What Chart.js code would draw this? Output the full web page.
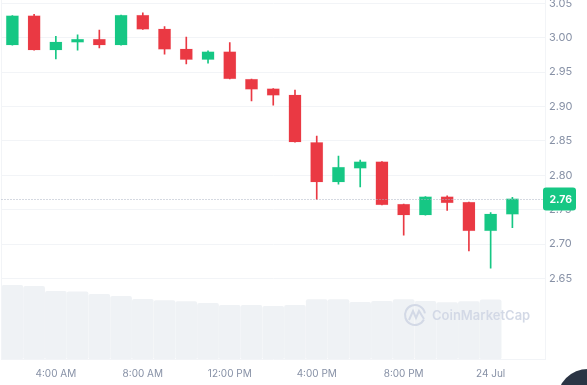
<!DOCTYPE html>
<html>
<head>
<meta charset="utf-8">
<script src="https://cdn.jsdelivr.net/npm/chart.js@4"></script>
<style>
html, body { margin: 0; padding: 0; background: #fff; overflow: hidden; }
#wrap { position: relative; width: 587px; height: 385px; overflow: hidden; }
#bubble { position: absolute; left: 557px; top: 369px; width: 62px; height: 62px; border-radius: 50%; background: #2b3444; }
</style>
</head>
<body>
<div id="wrap">
<canvas id="priceChart" width="587" height="385"></canvas>
<div id="bubble"></div>
</div>
<script>
const labels = ['', '', '4:00 AM', '', '', '', '8:00 AM', '', '', '', '12:00 PM', '', '', '', '4:00 PM', '', '', '', '8:00 PM', '', '', '', '24 Jul', '', ''];
const opens = [2.989, 3.032, 2.982, 2.993, 2.998, 2.989, 3.033, 3.013, 2.984, 2.968, 2.980, 2.940, 2.926, 2.917, 2.848, 2.790, 2.810, 2.820, 2.758, 2.742, 2.769, 2.761, 2.719, 2.743];
const closes = [3.032, 2.982, 2.994, 2.998, 2.989, 3.033, 3.012, 2.983, 2.968, 2.980, 2.940, 2.925, 2.916, 2.848, 2.790, 2.812, 2.820, 2.757, 2.742, 2.769, 2.760, 2.719, 2.744, 2.766];
const highs = [3.032, 3.034, 3.002, 3.004, 3.011, 3.033, 3.036, 3.016, 3.001, 2.981, 2.993, 2.940, 2.926, 2.924, 2.857, 2.828, 2.822, 2.820, 2.758, 2.769, 2.770, 2.761, 2.746, 2.768];
const lows = [2.989, 2.982, 2.969, 2.982, 2.985, 2.989, 3.012, 2.976, 2.962, 2.963, 2.940, 2.908, 2.902, 2.848, 2.765, 2.787, 2.783, 2.757, 2.713, 2.742, 2.749, 2.690, 2.665, 2.724];
const volumes = [73.7, 72.7, 67.7, 67, 64.7, 62.7, 59.7, 58.4, 57.4, 55.7, 53.7, 53.7, 52.7, 53.7, 59.4, 59.4, 56.7, 57.7, 59.4, 57.7, 56.4, 57.4, 59];
const yTicks = [3.05, 3.00, 2.95, 2.90, 2.85, 2.80, 2.75, 2.70, 2.65];
const lastPrice = 2.7654;
const lastPriceLabel = '2.76';

const UP = '#16c784';
const DOWN = '#ea3943';
const UP_EDGE = 'rgba(22,199,132,0.25)';
const DOWN_EDGE = 'rgba(234,57,67,0.25)';
const GRID = '#f2f4f7';
const TICK = '#8791a6';

const overlay = {
    id: 'overlay',
    afterDatasetsDraw(chart) {
        const ctx = chart.ctx;
        // watermark
        ctx.save();
        ctx.strokeStyle = '#d3d9e6';
        ctx.lineWidth = 2;
        ctx.beginPath();
        ctx.arc(415, 315, 10, 0.15 * Math.PI, 1.95 * Math.PI);
        ctx.stroke();
        ctx.beginPath();
        ctx.moveTo(409, 320);
        ctx.lineTo(413, 311);
        ctx.lineTo(416, 318);
        ctx.lineTo(419, 311);
        ctx.lineTo(424, 319);
        ctx.stroke();
        ctx.fillStyle = '#d3d9e6';
        ctx.font = '600 13px Inter';
        ctx.textBaseline = 'middle';
        ctx.fillText('CoinMarketCap', 432, 316);
        ctx.restore();
    },
    afterDraw(chart) {
        const ctx = chart.ctx;
        const area = chart.chartArea;
        const y = chart.scales.y.getPixelForValue(lastPrice);
        ctx.save();
        // faint left edge
        ctx.strokeStyle = GRID;
        ctx.beginPath();
        ctx.moveTo(area.left, area.top);
        ctx.lineTo(area.left, area.bottom);
        ctx.stroke();
        // last price line
        ctx.strokeStyle = '#aab2c2';
        ctx.setLineDash([1, 2]);
        ctx.beginPath();
        ctx.moveTo(area.left, Math.round(y) + 0.5);
        ctx.lineTo(area.right, Math.round(y) + 0.5);
        ctx.stroke();
        ctx.setLineDash([]);
        ctx.fillStyle = UP;
        ctx.beginPath();
        ctx.roundRect(543, y - 11.5, 33, 23, 3);
        ctx.fill();
        ctx.fillStyle = '#fff';
        ctx.font = '700 10.5px Inter';
        ctx.textBaseline = 'middle';
        ctx.fillText(lastPriceLabel, 549.5, y + 0.5);
        ctx.restore();
    }
};

const candleColors = closes.map((c, i) => c >= opens[i] ? UP : DOWN);
const edgeColors = closes.map((c, i) => c >= opens[i] ? UP_EDGE : DOWN_EDGE);

new Chart(document.getElementById('priceChart'), {
    data: {
        labels: labels,
        datasets: [
            {
                type: 'bar', label: 'Volume', yAxisID: 'yVol', order: 3,
                data: volumes, backgroundColor: '#eff2f5', barThickness: 21, borderRadius: 2, borderSkipped: false
            },
            {
                type: 'bar', label: 'Wick', yAxisID: 'y', order: 2,
                data: highs.map((h, i) => [lows[i], h]), backgroundColor: candleColors, barThickness: 1
            },
            {
                type: 'bar', label: 'Body', yAxisID: 'y', order: 1,
                data: opens.map((o, i) => [o, closes[i]]), backgroundColor: candleColors,
                borderColor: edgeColors, borderWidth: 0.5, borderSkipped: false, barThickness: 12.5
            }
        ]
    },
    options: {
        responsive: false,
        animation: false,
        layout: { padding: 0 },
        plugins: { legend: { display: false }, tooltip: { enabled: false } },
        datasets: { bar: { grouped: false } },
        scales: {
            x: {
                grid: { display: false, drawTicks: false },
                border: { color: GRID },
                ticks: { color: TICK, font: { family: 'Inter', size: 10 }, autoSkip: false, maxRotation: 0, padding: 9 },
                afterFit(scale) { scale.height = 26; scale.paddingLeft = 1.5; scale.paddingRight = 0; }
            },
            y: {
                position: 'right',
                min: 2.533,
                max: 3.0548,
                grid: { color: GRID, drawTicks: false },
                border: { color: GRID },
                ticks: { color: TICK, font: { family: 'Inter', size: 11 }, padding: 4, callback: v => v.toFixed(2) },
                afterBuildTicks(scale) { scale.ticks = yTicks.map(v => ({ value: v })); },
                afterFit(scale) { scale.width = 42; scale.paddingTop = 0; scale.paddingBottom = 0; }
            },
            yVol: {
                display: false,
                min: 0,
                max: 358.7
            }
        }
    },
    plugins: [overlay]
});
</script>
</body>
</html>
